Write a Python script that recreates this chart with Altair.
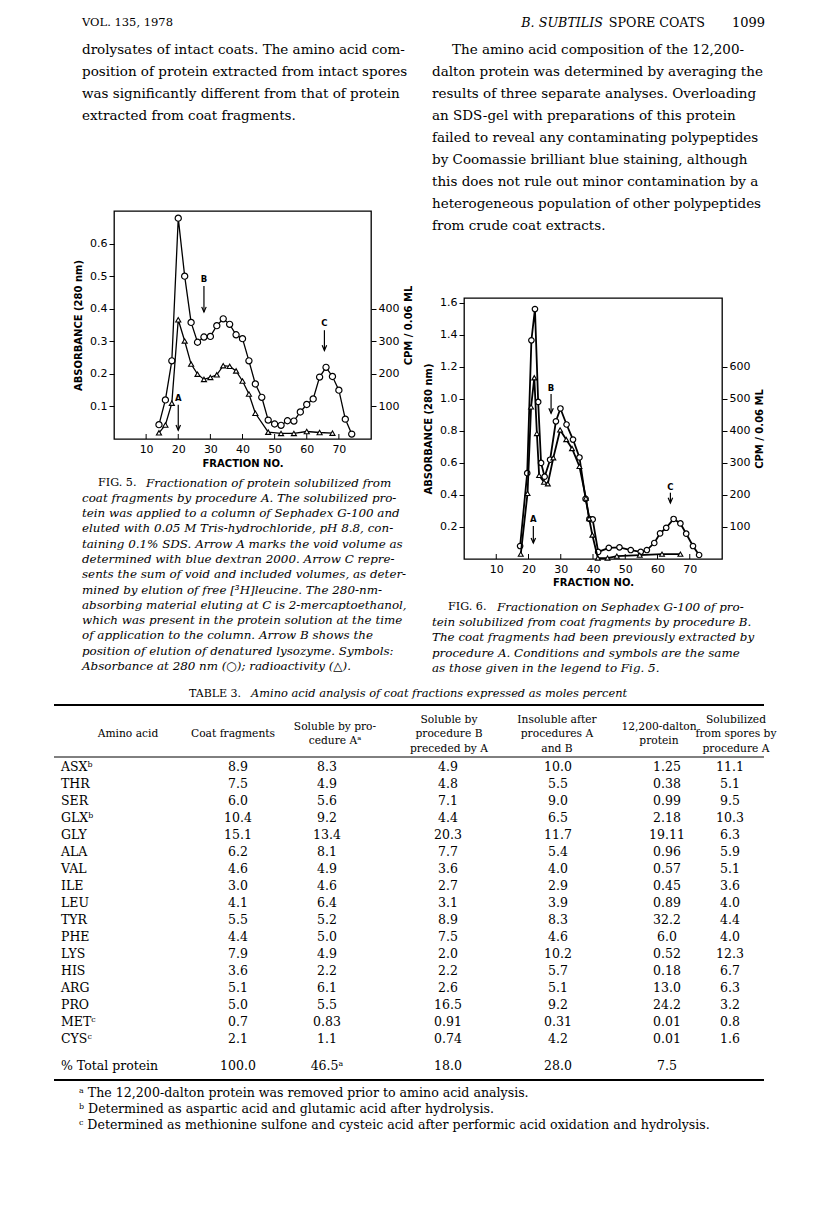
import altair as alt
import pandas as pd

SERIF = "DejaVu Serif"
SANS = "DejaVu Sans"

# ---------------- Figure 5 data ----------------
f5_abs_x = [14, 16, 18, 20, 22, 24, 26, 28, 30, 32, 34, 36, 38, 40, 42, 44, 46, 48, 50, 52,
            54, 56, 58, 60, 62, 64, 66, 68, 70, 72, 74]
f5_abs = [0.044, 0.12, 0.24, 0.678, 0.50, 0.358, 0.297, 0.313, 0.315, 0.348, 0.369, 0.352,
          0.32, 0.308, 0.24, 0.169, 0.128, 0.058, 0.046, 0.042, 0.056, 0.055, 0.083, 0.106,
          0.123, 0.19, 0.22, 0.192, 0.15, 0.061, 0.015]
f5_cpm_x = [14, 16, 18, 20, 22, 24, 26, 28, 30, 32, 34, 36, 38, 40, 42, 44, 48, 52, 56, 60, 64, 68]
f5_cpm = [19, 43, 110, 366, 301, 230, 199, 183, 189, 197, 225, 223, 209, 178, 138, 79, 21, 17,
          17, 23, 20, 18]
f5_arrow_lab = ["A", "B", "C"]
f5_arrow_x = [20, 28, 65.5]
f5_arrow_top = [0.105, 0.47, 0.334]
f5_arrow_tip = [0.027, 0.39, 0.272]
f5_arrow_laby = [0.126, 0.49, 0.356]

# ---------------- Figure 6 data ----------------
f6_abs_x = [17.4, 19.6, 20.9, 22.0, 23.0, 23.9, 25.0, 26.7, 28.5, 29.9, 31.8, 33.8, 35.8, 37.7,
            38.9, 39.9, 41.6, 44.9, 48.2, 51.7, 54.8, 56.7, 59.0, 60.8, 62.7, 65.0, 67.1, 68.9,
            71.0, 72.9]
f6_abs = [0.081, 0.536, 1.366, 1.561, 0.981, 0.60, 0.514, 0.62, 0.86, 0.94, 0.84, 0.746,
          0.634, 0.376, 0.25, 0.247, 0.044, 0.07, 0.073, 0.056, 0.045, 0.056, 0.10, 0.16,
          0.195, 0.25, 0.222, 0.158, 0.081, 0.025]
f6_cpm_x = [17.6, 19.7, 20.8, 21.8, 22.6, 23.3, 24.8, 26.0, 27.7, 29.8, 31.7, 33.5, 35.8, 37.8,
            38.8, 39.8, 41.5, 44.5, 47.4, 54.5, 61.4, 67.1]
f6_cpm = [15, 205, 475, 566, 392, 261, 240, 235, 316, 403, 373, 345, 289, 190, 126, 75, 3, 3,
          9, 12, 15, 15]
f6_arrow_lab = ["A", "B", "C"]
f6_arrow_x = [21.5, 27, 64]
f6_arrow_top = [0.206, 1.03, 0.414]
f6_arrow_tip = [0.10, 0.91, 0.35]
f6_arrow_laby = [0.247, 1.07, 0.45]

x_ticks = [10, 20, 30, 40, 50, 60, 70]
f5_left_ticks = [0.1, 0.2, 0.3, 0.4, 0.5, 0.6]
f5_right_ticks = [100, 200, 300, 400]
f6_left_ticks = [0.2, 0.4, 0.6, 0.8, 1.0, 1.2, 1.4, 1.6]
f6_right_ticks = [100, 200, 300, 400, 500, 600]

# ---------------- Page text ----------------
header_left = "VOL. 135, 1978"
header_italic = "B. SUBTILIS"
header_mid = "SPORE COATS"
header_page = "1099"

left_para = [
    "drolysates of intact coats. The amino acid com-",
    "position of protein extracted from intact spores",
    "was significantly different from that of protein",
    "extracted from coat fragments.",
]
right_para_first = "The amino acid composition of the 12,200-"
right_para = [
    "dalton protein was determined by averaging the",
    "results of three separate analyses. Overloading",
    "an SDS-gel with preparations of this protein",
    "failed to reveal any contaminating polypeptides",
    "by Coomassie brilliant blue staining, although",
    "this does not rule out minor contamination by a",
    "heterogeneous population of other polypeptides",
    "from crude coat extracts.",
]
fig5_label = "FIG. 5."
fig5_caption = [
    "Fractionation of protein solubilized from",
    "coat fragments by procedure A. The solubilized pro-",
    "tein was applied to a column of Sephadex G-100 and",
    "eluted with 0.05 M Tris-hydrochloride, pH 8.8, con-",
    "taining 0.1% SDS. Arrow A marks the void volume as",
    "determined with blue dextran 2000. Arrow C repre-",
    "sents the sum of void and included volumes, as deter-",
    "mined by elution of free [³H]leucine. The 280-nm-",
    "absorbing material eluting at C is 2-mercaptoethanol,",
    "which was present in the protein solution at the time",
    "of application to the column. Arrow B shows the",
    "position of elution of denatured lysozyme. Symbols:",
    "Absorbance at 280 nm (○); radioactivity (△).",
]
fig6_label = "FIG. 6."
fig6_caption = [
    "Fractionation on Sephadex G-100 of pro-",
    "tein solubilized from coat fragments by procedure B.",
    "The coat fragments had been previously extracted by",
    "procedure A. Conditions and symbols are the same",
    "as those given in the legend to Fig. 5.",
]

# ---------------- Table 3 ----------------
table_label = "TABLE 3."
table_title = "Amino acid analysis of coat fractions expressed as moles percent"
amino_acids = ["ASXᵇ", "THR", "SER", "GLXᵇ", "GLY", "ALA", "VAL", "ILE", "LEU", "TYR",
               "PHE", "LYS", "HIS", "ARG", "PRO", "METᶜ", "CYSᶜ"]
col_headers = [["Amino acid"], ["Coat fragments"], ["Soluble by pro-", "cedure Aᵃ"],
               ["Soluble by", "procedure B", "preceded by A"],
               ["Insoluble after", "procedures A", "and B"],
               ["12,200-dalton", "protein"],
               ["Solubilized", "from spores by", "procedure A"]]
coat_fragments = ["8.9", "7.5", "6.0", "10.4", "15.1", "6.2", "4.6", "3.0", "4.1", "5.5", "4.4",
                  "7.9", "3.6", "5.1", "5.0", "0.7", "2.1"]
soluble_a = ["8.3", "4.9", "5.6", "9.2", "13.4", "8.1", "4.9", "4.6", "6.4", "5.2", "5.0", "4.9",
             "2.2", "6.1", "5.5", "0.83", "1.1"]
soluble_b = ["4.9", "4.8", "7.1", "4.4", "20.3", "7.7", "3.6", "2.7", "3.1", "8.9", "7.5", "2.0",
             "2.2", "2.6", "16.5", "0.91", "0.74"]
insoluble = ["10.0", "5.5", "9.0", "6.5", "11.7", "5.4", "4.0", "2.9", "3.9", "8.3", "4.6",
             "10.2", "5.7", "5.1", "9.2", "0.31", "4.2"]
dalton_12200 = ["1.25", "0.38", "0.99", "2.18", "19.11", "0.96", "0.57", "0.45", "0.89", "32.2",
                "6.0", "0.52", "0.18", "13.0", "24.2", "0.01", "0.01"]
from_spores = ["11.1", "5.1", "9.5", "10.3", "6.3", "5.9", "5.1", "3.6", "4.0", "4.4", "4.0",
               "12.3", "6.7", "6.3", "3.2", "0.8", "1.6"]
total_label = "% Total protein"
total_protein = ["100.0", "46.5ᵃ", "18.0", "28.0", "7.5", ""]
footnotes = [
    "ᵃ The 12,200-dalton protein was removed prior to amino acid analysis.",
    "ᵇ Determined as aspartic acid and glutamic acid after hydrolysis.",
    "ᶜ Determined as methionine sulfone and cysteic acid after performic acid oxidation and hydrolysis.",
]

# sizes
BODY = 13.5
CAP = 11.9
TAB = 12.5


# ---------------- helpers ----------------
def text_block(lines, x, y, size, line_height=None, style="normal", align="left",
               baseline="top", weight="normal", font=SERIF):
    if isinstance(lines, str):
        lines = [lines]
    kw = dict(lineBreak="\n", align=align, baseline=baseline, font=font, fontSize=size,
              fontStyle=style, fontWeight=weight, color="black")
    if line_height:
        kw["lineHeight"] = line_height
    return alt.Chart(pd.DataFrame({"t": ["\n".join(lines)]})).mark_text(**kw).encode(
        text="t:N", x=alt.value(x), y=alt.value(y))


def anchor(x1, x2, y):
    # invisible (white) layout guide
    return alt.Chart(pd.DataFrame({"a": [0]})).mark_rule(color="white", strokeWidth=1).encode(
        x=alt.value(x1), x2=alt.value(x2), y=alt.value(y))


def figure(W, H, ax, ay, cx, cy, ymax, cmax, lticks, rticks, alab, axx, atop, atip, alaby,
           sw, csize, tsize, xtitle_pad):
    xaxis = alt.Axis(values=x_ticks, ticks=False, domain=False, grid=False, labelFont=SANS,
                     labelFontSize=11, labelColor="black", labelPadding=4,
                     title="FRACTION  NO.", titleFont=SANS, titleFontSize=10,
                     titleFontWeight="bold", titleColor="black", titlePadding=xtitle_pad)
    xs = alt.Scale(domain=[0, 80], nice=False, zero=False)

    def X(f):
        return alt.X(f + ":Q", scale=xs, axis=xaxis)

    yaxis = alt.Axis(values=lticks, format=".1f", tickSize=5, tickColor="black", tickWidth=1,
                     domain=False, grid=False, labelFont=SANS, labelFontSize=11,
                     labelColor="black", labelPadding=2, title="ABSORBANCE  (280 nm)",
                     titleFont=SANS, titleFontSize=10, titleFontWeight="bold",
                     titleColor="black", titlePadding=6)
    ys = alt.Scale(domain=[0, ymax], nice=False, zero=True)

    def Y(f):
        return alt.Y(f + ":Q", scale=ys, axis=yaxis)

    caxis = alt.Axis(orient="right", values=rticks, format="d", tickSize=5, tickColor="black",
                     tickWidth=1, domain=False, grid=False, labelFont=SANS, labelFontSize=11,
                     labelColor="black", labelPadding=2, title="CPM / 0.06 ML", titleAngle=270,
                     titleBaseline="top", titleFont=SANS, titleFontSize=10,
                     titleFontWeight="bold", titleColor="black", titlePadding=5)
    cs = alt.Scale(domain=[0, cmax], nice=False, zero=True)

    absdf = pd.DataFrame({"x": ax, "y": ay})
    cpmdf = pd.DataFrame({"x": cx, "c": cy})
    arr = pd.DataFrame({"x": axx, "top": atop, "tip": atip, "ly": alaby, "lab": alab})
    ticks = pd.DataFrame({"t": x_ticks})

    abs_line = alt.Chart(absdf).mark_line(color="black", strokeWidth=sw).encode(x=X("x"), y=Y("y"))
    abs_pts = alt.Chart(absdf).mark_point(shape="circle", filled=True, fill="white",
                                          stroke="black", strokeWidth=1.2, size=csize,
                                          opacity=1).encode(x=X("x"), y=Y("y"))
    arr_rule = alt.Chart(arr).mark_rule(color="black", strokeWidth=1.2).encode(
        x=X("x"), y=Y("top"), y2="tip:Q")
    arr_head = alt.Chart(arr).mark_point(shape="M-0.75,-1.7L0,0L0.75,-1.7", filled=False,
                                         stroke="black", strokeWidth=1.2, size=36,
                                         opacity=1).encode(x=X("x"), y=Y("tip"))
    arr_lab = alt.Chart(arr).mark_text(font=SANS, fontSize=8.5, fontWeight="bold",
                                       color="black").encode(x=X("x"), y=Y("ly"), text="lab:N")
    tick_rules = alt.Chart(ticks).mark_rule(color="black", strokeWidth=1).encode(
        x=X("t"), y=alt.value(H - 5), y2=alt.value(H))
    abs_group = alt.layer(tick_rules, abs_line, arr_rule, arr_head, arr_lab, abs_pts)

    cpm_line = alt.Chart(cpmdf).mark_line(color="black", strokeWidth=sw).encode(
        x=X("x"), y=alt.Y("c:Q", scale=cs, axis=caxis))
    cpm_pts = alt.Chart(cpmdf).mark_point(shape="triangle-up", filled=True, fill="white",
                                          stroke="black", strokeWidth=1.1, size=tsize,
                                          opacity=1).encode(
        x=X("x"), y=alt.Y("c:Q", scale=cs, axis=caxis))
    cpm_group = alt.layer(cpm_line, cpm_pts)
    return abs_group, cpm_group


# ---------------- Left column: text above Fig. 5 (origin = page 115, 10) ----------------
W5, H5 = 257, 228
left_top = alt.layer(
    anchor(-60, 302, 0),
    anchor(-60, 302, 198.5),
    text_block(header_left, -32, 12, 11.5, baseline="middle"),
    text_block(left_para, -32, 38 - 0.47 * BODY, BODY, 22),
).properties(width=W5, height=1)

a5, c5 = figure(W5, H5, f5_abs_x, f5_abs, f5_cpm_x, f5_cpm, 0.70, 700, f5_left_ticks,
                f5_right_ticks, f5_arrow_lab, f5_arrow_x, f5_arrow_top, f5_arrow_tip,
                f5_arrow_laby, 1.3, 38, 26, 4)
fig5 = alt.layer(
    anchor(-60, 302, 471),
    a5, c5,
    text_block(fig5_label, -16, 272, 11.2, baseline="middle"),
    text_block(fig5_caption[0], 32, 272, CAP, style="italic", baseline="middle"),
    text_block(fig5_caption[1:], -32, 287.3 - 0.47 * CAP, CAP, 15.3, style="italic"),
).resolve_scale(y="independent").properties(
    width=W5, height=H5, view=alt.ViewBackground(stroke="black", strokeWidth=1.3))

# ---------------- Right column: text above Fig. 6 (origin = page 464, 10) ----------------
W6, H6 = 258, 261
right_top = alt.layer(
    anchor(-45, 301, 0),
    anchor(-45, 301, 284.5),
    text_block(header_italic, 139, 12, 12.7, style="italic", align="right", baseline="middle"),
    text_block(header_mid, 241, 12, 12.7, align="right", baseline="middle"),
    text_block(header_page, 301, 12, 13, align="right", baseline="middle"),
    text_block(right_para_first, -12, 38 - 0.47 * BODY, BODY),
    text_block(right_para, -32, 60 - 0.47 * BODY, BODY, 22),
).properties(width=W6, height=1)

a6, c6 = figure(W6, H6, f6_abs_x, f6_abs, f6_cpm_x, f6_cpm, 1.63, 815, f6_left_ticks,
                f6_right_ticks, f6_arrow_lab, f6_arrow_x, f6_arrow_top, f6_arrow_tip,
                f6_arrow_laby, 1.8, 30, 24, 3)
fig6 = alt.layer(
    a6, c6,
    text_block(fig6_label, -16, 309, 11.2, baseline="middle"),
    text_block(fig6_caption[0], 33, 309, CAP, style="italic", baseline="middle"),
    text_block(fig6_caption[1:], -32, 324.5 - 0.47 * CAP, CAP, 15.5, style="italic"),
).resolve_scale(y="independent").properties(
    width=W6, height=H6, view=alt.ViewBackground(stroke="black", strokeWidth=1.3))

# ---------------- Table (origin = page 115, 764) ----------------
TW, TH = 650, 272
Yrow = alt.Y("aa:N", scale=alt.Scale(domain=amino_acids, padding=0), axis=None)
num_x = [124, 213, 334, 444, 553, 616]
head_x = [14, 119, 221, 335, 443, 545, 622]
columns = [coat_fragments, soluble_a, soluble_b, insoluble, dalton_12200, from_spores]

table_layers = [anchor(-60, 650, -82.5)]
rules = pd.DataFrame({"r": [0]})
for yv, swd in [(-62, 1.8), (-10, 1.0), (313, 1.8)]:
    table_layers.append(alt.Chart(rules).mark_rule(color="black", strokeWidth=swd).encode(
        x=alt.value(-60), x2=alt.value(650), y=alt.value(yv)))
table_layers.append(text_block(table_label, 75, -73, 11, baseline="middle"))
table_layers.append(text_block(table_title, 137, -73, 11.4, style="italic", baseline="middle"))
for hx, h in zip(head_x, col_headers):
    first_y = -33 - (len(h) - 1) * 14.5 / 2
    table_layers.append(text_block(h, hx, first_y, 10.7, 14.5, align="center",
                                   baseline="middle"))
table_layers.append(alt.Chart(pd.DataFrame({"aa": amino_acids})).mark_text(
    align="left", font=SERIF, fontSize=TAB, color="black").encode(
    y=Yrow, x=alt.value(-53), text="aa:N"))
for nx, vals in zip(num_x, columns):
    table_layers.append(alt.Chart(pd.DataFrame({"aa": amino_acids, "v": vals})).mark_text(
        align="center", font=SERIF, fontSize=TAB, color="black").encode(
        y=Yrow, x=alt.value(nx), text="v:N"))
table_layers.append(text_block(total_label, -53, 299, TAB, baseline="middle"))
for nx, v in zip(num_x, total_protein):
    if v:
        table_layers.append(text_block(v, nx, 299, TAB, align="center", baseline="middle"))
table_layers.append(text_block(footnotes, -35, 326 - 0.47 * 12.6, 12.6, 16))

table = alt.layer(*table_layers).properties(width=TW, height=TH)

page = alt.vconcat(
    alt.hconcat(
        alt.vconcat(left_top, fig5, spacing=0),
        alt.vconcat(right_top, fig6, spacing=0),
        spacing=0,
    ),
    table,
    spacing=0,
).properties(
    padding={"left": 44, "top": 2, "right": 5, "bottom": 5}
).configure_view(stroke=None)

page.save("out.html", embed_options={"renderer": "svg", "actions": False})
